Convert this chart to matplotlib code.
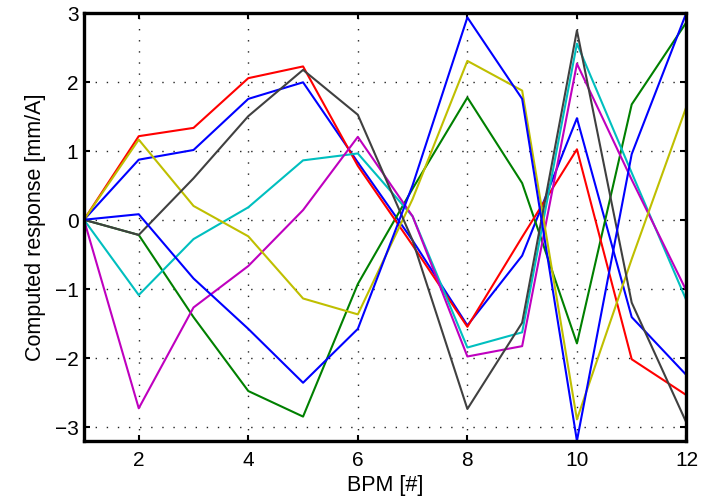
import matplotlib
matplotlib.use("Agg")
import matplotlib.pyplot as plt

plt.rcParams['font.family'] = ['Liberation Sans', 'DejaVu Sans']

bpm = [1, 2, 3, 4, 5, 6, 7, 8, 9, 10, 11, 12]

# response of each corrector
blue_a = [0, 0.87, 1.01, 1.75, 1.99, 0.83, -0.30, -1.53, -0.52, 1.47, -1.41, -2.25]
green = [0, -0.22, -1.41, -2.48, -2.85, -0.93, 0.45, 1.77, 0.53, -1.79, 1.67, 2.86]
red = [0, 1.21, 1.33, 2.05, 2.22, 0.78, -0.37, -1.55, -0.25, 1.02, -2.02, -2.54]
cyan = [0, -1.09, -0.28, 0.18, 0.86, 0.96, 0.05, -1.85, -1.63, 2.55, 0.68, -1.17]
magenta = [0, -2.73, -1.27, -0.67, 0.14, 1.20, 0.05, -1.98, -1.83, 2.26, 0.58, -1.03]
yellow = [0, 1.16, 0.20, -0.24, -1.14, -1.37, 0.30, 2.30, 1.87, -2.89, -0.57, 1.64]
gray = [0, -0.22, 0.60, 1.50, 2.17, 1.52, -0.30, -2.74, -1.49, 2.74, -1.20, -2.94]
blue_b = [0, 0.08, -0.85, -1.58, -2.36, -1.58, 0.50, 2.93, 1.75, -3.20, 0.95, 3.00]

series = [blue_a, green, red, cyan, magenta, yellow, gray, blue_b]
colors = ['#0000ff', '#008000', '#ff0000', '#00bfbf', '#bf00bf', '#bfbf00', '#404040', '#0000ff']

fig = plt.figure(figsize=(7.08, 5.02), dpi=100)
ax = fig.add_axes([0.1186, 0.120, 0.851, 0.853])

for ys, c in zip(series, colors):
    ax.plot(bpm, ys, color=c, lw=1.5)

ax.set_xlim(1, 12)
ax.set_ylim(-3.2, 3)
ax.set_xticks([2, 4, 6, 8, 10, 12])
ax.set_yticks([-3, -2, -1, 0, 1, 2, 3])
ax.grid(True, color='#222222', linestyle=(0, (1, 7)), lw=1.0)
ax.tick_params(direction='in', length=4, width=1.5, top=True, right=True,
               labelsize=15)
ax.tick_params(axis='x', pad=7)
ax.tick_params(axis='y', pad=4)
for s in ax.spines.values():
    s.set_linewidth(2.4)

ax.set_xlabel('BPM [#]', fontsize=15.5, labelpad=3)
ax.set_ylabel('Computed response [mm/A]', fontsize=15.5, labelpad=6)

fig.savefig('out.png', dpi=100)
